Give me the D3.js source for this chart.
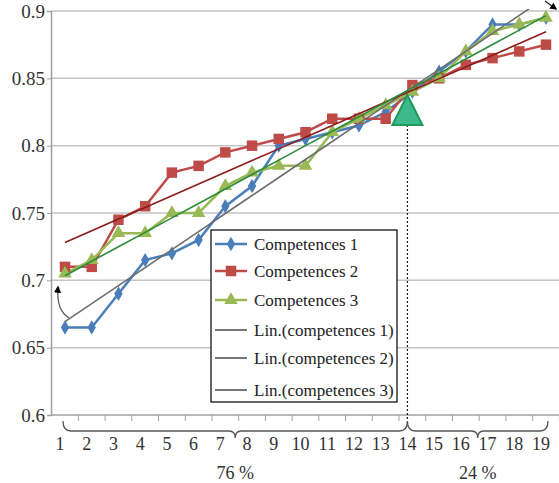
<!DOCTYPE html>
<html>
<head>
<meta charset="utf-8">
<script src="https://cdn.jsdelivr.net/npm/d3@7"></script>
<style>
  body { margin: 0; background: #fff; }
  text { font-family: "Liberation Serif", "DejaVu Serif", serif; }
</style>
</head>
<body>
<svg id="chart" width="559" height="483"></svg>
<script>
// data
var categories = [1,2,3,4,5,6,7,8,9,10,11,12,13,14,15,16,17,18,19];
var comp1 = [0.665,0.665,0.69,0.715,0.72,0.73,0.755,0.77,0.80,0.805,0.81,0.815,0.825,0.84,0.855,0.87,0.89,0.89,0.895];
var comp2 = [0.71,0.71,0.745,0.755,0.78,0.785,0.795,0.80,0.805,0.81,0.82,0.82,0.82,0.845,0.85,0.86,0.865,0.87,0.875];
var comp3 = [0.705,0.715,0.735,0.735,0.75,0.75,0.77,0.78,0.785,0.785,0.81,0.82,0.83,0.84,0.85,0.87,0.885,0.89,0.895];
var yTicks = [0.6,0.65,0.7,0.75,0.8,0.85,0.9];
var seriesNames = ["Competences 1","Competences 2","Competences 3"];
var trendNames = ["Lin.(competences 1)","Lin.(competences 2)","Lin.(competences 3)"];
var groupLabels = ["76 %","24 %"];
var splitAt = 14;

var svg = d3.select("#chart");
var pLeft = 51, pRight = 559, pTop = 11, pBottom = 415;

var x = d3.scalePoint().domain(categories).range([65, 546]);
var y = d3.scaleLinear().domain([0.6, 0.9]).range([pBottom, pTop]);

// grid lines
svg.selectAll(".grid")
  .data(yTicks.slice(1))
  .enter().append("line")
  .attr("x1", pLeft).attr("x2", pRight)
  .attr("y1", function(d) { return y(d); })
  .attr("y2", function(d) { return y(d); })
  .attr("stroke", "#c4c4c4").attr("stroke-width", 1.5);

// y axis
var yAxis = d3.axisLeft(y).tickValues(yTicks).tickSize(4)
  .tickFormat(function(d) { return String(+d.toFixed(2)); });
var gy = svg.append("g").attr("transform", "translate(" + pLeft + ",0)").call(yAxis);
gy.select(".domain").attr("stroke", "#a0a0a0").attr("stroke-width", 1.5);
gy.selectAll(".tick line").attr("stroke", "#a0a0a0");
gy.selectAll(".tick text").attr("font-size", "19px").attr("fill", "#333").attr("x", -6)
  .style("font-family", "Liberation Serif");

// x axis line with ticks between categories
svg.append("line").attr("x1", pLeft).attr("x2", pRight).attr("y1", pBottom).attr("y2", pBottom)
  .attr("stroke", "#a0a0a0").attr("stroke-width", 1.5);
var step = x.step();
svg.selectAll(".xtick")
  .data(categories)
  .enter().append("line")
  .attr("x1", function(d) { return x(d) + step / 2; })
  .attr("x2", function(d) { return x(d) + step / 2; })
  .attr("y1", pBottom).attr("y2", pBottom + 6)
  .attr("stroke", "#a0a0a0");
svg.selectAll(".xlabel")
  .data(categories)
  .enter().append("text")
  .attr("x", function(d) { return x(d) - 5; })
  .attr("y", 450)
  .attr("text-anchor", "middle")
  .attr("font-size", "18px").attr("fill", "#333")
  .text(function(d) { return d; });

// trend lines (least squares over the series)
function fit(vals) {
  var n = vals.length, sx = 0, sy = 0, sxy = 0, sxx = 0;
  vals.forEach(function(v, i) { var xi = categories[i]; sx += xi; sy += v; sxy += xi * v; sxx += xi * xi; });
  var b = (n * sxy - sx * sy) / (n * sxx - sx * sx);
  var a = (sy - b * sx) / n;
  return categories.map(function(c) { return a + b * c; });
}
svg.append("clipPath").attr("id", "clip").append("rect")
  .attr("x", pLeft).attr("y", pTop - 2).attr("width", pRight - pLeft).attr("height", pBottom - pTop + 2);

var line = d3.line().x(function(d, i) { return x(categories[i]); }).y(function(d) { return y(d); });
var colors = ["#4a7ebb", "#be4b48", "#98b954"];
var trendColors = ["#6e6e6e", "#8b1c1c", "#2e8b3a"];
var allSeries = [comp1, comp2, comp3];

var plot = svg.append("g").attr("clip-path", "url(#clip)");

allSeries.forEach(function(s, k) {
  plot.append("path").datum(s).attr("d", line)
    .attr("fill", "none").attr("stroke", colors[k]).attr("stroke-width", 2.5);
});

var diamond = d3.symbol().type(d3.symbolDiamond).size(60);
var square = d3.symbol().type(d3.symbolSquare).size(110);
var tri = d3.symbol().type(d3.symbolTriangle).size(80);
var shapes = [diamond, square, tri];

allSeries.forEach(function(s, k) {
  plot.selectAll(".m" + k).data(s).enter().append("path")
    .attr("d", shapes[k])
    .attr("transform", function(d, i) { return "translate(" + x(categories[i]) + "," + y(d) + ")"; })
    .attr("fill", colors[k]);
});

allSeries.forEach(function(s, k) {
  plot.append("path").datum(fit(s)).attr("d", line)
    .attr("fill", "none").attr("stroke", trendColors[k]).attr("stroke-width", 1.6);
});

// highlight triangle and dotted split line
var tx = x(splitAt) - 5;
svg.append("line").attr("x1", tx).attr("x2", tx).attr("y1", 125).attr("y2", pBottom + 4)
  .attr("stroke", "#222").attr("stroke-width", 1.3).attr("stroke-dasharray", "2,2");
svg.append("path")
  .attr("d", "M" + tx + ",95 L" + (tx + 15) + ",125 L" + (tx - 15) + ",125 Z")
  .attr("fill", "#3dba8c").attr("stroke", "#1f9a5a").attr("stroke-width", 2);

// braces under the axis
function brace(x1, x2, yTop, yMid, tip) {
  var m = (x1 + x2) / 2;
  return "M" + x1 + "," + yTop + " Q" + x1 + "," + yMid + " " + (x1 + 8) + "," + yMid +
    " L" + (m - 6) + "," + yMid + " Q" + m + "," + yMid + " " + m + "," + tip +
    " Q" + m + "," + yMid + " " + (m + 6) + "," + yMid +
    " L" + (x2 - 8) + "," + yMid + " Q" + x2 + "," + yMid + " " + x2 + "," + yTop;
}
var braces = [[63, tx], [tx, 548]];
braces.forEach(function(b, i) {
  svg.append("path").attr("d", brace(b[0], b[1], 421, 431, 438))
    .attr("fill", "none").attr("stroke", "#555").attr("stroke-width", 1.3);
  svg.append("text").attr("x", (b[0] + b[1]) / 2).attr("y", 479)
    .attr("text-anchor", "middle").attr("font-size", "18px").attr("fill", "#333")
    .text(groupLabels[i]);
});

// little arrows
svg.append("defs").append("marker").attr("id", "ah")
  .attr("viewBox", "0 0 10 10").attr("refX", 8).attr("refY", 5)
  .attr("markerWidth", 6).attr("markerHeight", 6).attr("orient", "auto")
  .append("path").attr("d", "M0,0 L10,5 L0,10 Z").attr("fill", "#000");
svg.append("path").attr("d", "M69,318 Q56,310 58,287")
  .attr("fill", "none").attr("stroke", "#555").attr("stroke-width", 1.2)
  .attr("marker-end", "url(#ah)");
svg.append("path").attr("d", "M545,1 L556,9")
  .attr("fill", "none").attr("stroke", "#222").attr("stroke-width", 1.2)
  .attr("marker-end", "url(#ah)");

// legend
var lg = svg.append("g").attr("transform", "translate(211,230)");
lg.append("rect").attr("width", 186).attr("height", 172)
  .attr("fill", "#fff").attr("stroke", "#000").attr("stroke-width", 1.2);
var legendY = [14, 41, 70, 100, 128, 160];
seriesNames.forEach(function(name, k) {
  var ly = legendY[k];
  lg.append("line").attr("x1", 4).attr("x2", 36).attr("y1", ly).attr("y2", ly)
    .attr("stroke", colors[k]).attr("stroke-width", 2.5);
  lg.append("path").attr("d", shapes[k]).attr("transform", "translate(20," + ly + ")").attr("fill", colors[k]);
  lg.append("text").attr("x", 43).attr("y", ly + 6).attr("font-size", "17px").attr("fill", "#222").text(name);
});
trendNames.forEach(function(name, k) {
  var ly = legendY[k + 3];
  lg.append("line").attr("x1", 4).attr("x2", 36).attr("y1", ly).attr("y2", ly)
    .attr("stroke", "#555").attr("stroke-width", 1.6);
  lg.append("text").attr("x", 43).attr("y", ly + 6).attr("font-size", "17px").attr("fill", "#222").text(name);
});
</script>
</body>
</html>
